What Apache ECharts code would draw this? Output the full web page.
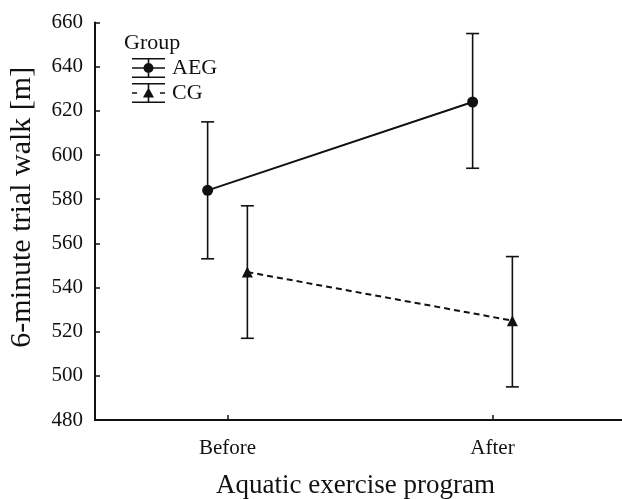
<!DOCTYPE html>
<html>
<head>
<meta charset="utf-8">
<script src="https://cdn.jsdelivr.net/npm/echarts@6/dist/echarts.min.js"></script>
<style>html,body{margin:0;padding:0;background:#fff}#c{width:622px;height:499px}</style>
</head>
<body>
<div id="c"></div>
<script>
var categories = ['Before', 'After'];
var groups = ['AEG', 'CG'];
var aegMean = [584, 624];
var aegLow = [553, 594];
var aegHigh = [615, 655];
var cgMean = [547, 525];
var cgLow = [517, 495];
var cgHigh = [577, 554];
var yTicks = [480, 500, 520, 540, 560, 580, 600, 620, 640, 660];

var FONT = '"Liberation Serif","Times New Roman",serif';
var INK = '#111';
var DODGE = 0.075;

function pts(mean, off) {
  return mean.map(function (v, i) { return [i + off, v]; });
}
function errPts(low, high, off) {
  return low.map(function (v, i) { return [i + off, v, high[i]]; });
}
function errRender(params, api) {
  var x = api.value(0);
  var lo = api.coord([x, api.value(1)]);
  var hi = api.coord([x, api.value(2)]);
  var cap = 6.5;
  var st = { stroke: INK, lineWidth: 1.6, fill: null };
  return {
    type: 'group',
    children: [
      { type: 'line', shape: { x1: lo[0], y1: lo[1], x2: hi[0], y2: hi[1] }, style: st },
      { type: 'line', shape: { x1: lo[0] - cap, y1: lo[1], x2: lo[0] + cap, y2: lo[1] }, style: st },
      { type: 'line', shape: { x1: hi[0] - cap, y1: hi[1], x2: hi[0] + cap, y2: hi[1] }, style: st }
    ]
  };
}

// legend icons (error-bar look), 33 x 20 box
var iconAEG = 'path://M0 0H33V1.6H0Z M0 18.4H33V20H0Z M0 9.2H33V10.8H0Z M15.7 0H17.3V20H15.7Z M16.5 5A5 5 0 1 1 16.49 5Z';
var iconCG = 'path://M0 0H33V1.6H0Z M0 18.4H33V20H0Z M0 9.2H5V10.8H0Z M28 9.2H33V10.8H28Z M15.7 0H17.3V20H15.7Z M16.5 4.5L22 14.5H11Z';

var chart = echarts.init(document.getElementById('c'));
chart.setOption({
  animation: false,
  backgroundColor: '#fff',
  textStyle: { fontFamily: FONT, color: INK },
  title: {
    text: 'Group', left: 119, top: 27,
    textStyle: { fontFamily: FONT, fontSize: 22, fontWeight: 'normal', color: INK }
  },
  legend: {
    left: 127, top: 52, orient: 'vertical',
    itemWidth: 33, itemHeight: 20, itemGap: 3,
    data: [
      { name: groups[0], icon: iconAEG },
      { name: groups[1], icon: iconCG }
    ],
    itemStyle: { color: INK, borderWidth: 0 },
    textStyle: { fontFamily: FONT, fontSize: 22, color: INK, padding: [0, 0, 0, 2] }
  },
  grid: { left: 95, top: 22.5, width: 530, bottom: 79, containLabel: false, outerBoundsMode: 'none' },
  xAxis: [
    {
      type: 'category', data: categories, boundaryGap: true,
      axisLine: { show: true, onZero: false, lineStyle: { color: INK, width: 2 } },
      axisTick: { show: true, inside: true, alignWithLabel: true, length: 5, lineStyle: { color: INK, width: 1.5 } },
      axisLabel: { fontFamily: FONT, fontSize: 21, color: INK, margin: 18 },
      splitLine: { show: false },
      name: 'Aquatic exercise program', nameLocation: 'middle', nameGap: 52,
      nameTextStyle: { fontFamily: FONT, fontSize: 27, color: INK, padding: [0, 9, 0, 0] }
    },
    { type: 'value', min: -0.5, max: 1.5, show: false }
  ],
  yAxis: {
    type: 'value', min: yTicks[0], max: yTicks[yTicks.length - 1], interval: 20,
    axisLine: { show: true, onZero: false, lineStyle: { color: INK, width: 2 } },
    axisTick: { show: true, inside: true, length: 5, lineStyle: { color: INK, width: 1.5 } },
    axisLabel: { fontFamily: FONT, fontSize: 21, color: INK, margin: 12 },
    splitLine: { show: false },
    name: '6-minute trial walk [m]', nameLocation: 'middle', nameGap: 58,
    nameTextStyle: { fontFamily: FONT, fontSize: 30, color: INK, padding: [0, 0, 0, 28] }
  },
  series: [
    {
      name: groups[0], type: 'line', xAxisIndex: 1, data: pts(aegMean, -DODGE),
      symbol: 'circle', symbolSize: 11, itemStyle: { color: INK },
      lineStyle: { color: INK, width: 2 }, z: 3
    },
    {
      name: groups[1], type: 'line', xAxisIndex: 1, data: pts(cgMean, DODGE),
      symbol: 'triangle', symbolSize: 11, itemStyle: { color: INK },
      lineStyle: { color: INK, width: 2, type: [6, 4] }, z: 3
    },
    {
      name: groups[0] + ' error', type: 'custom', xAxisIndex: 1,
      data: errPts(aegLow, aegHigh, -DODGE), renderItem: errRender,
      encode: { x: 0, y: [1, 2] }, z: 2
    },
    {
      name: groups[1] + ' error', type: 'custom', xAxisIndex: 1,
      data: errPts(cgLow, cgHigh, DODGE), renderItem: errRender,
      encode: { x: 0, y: [1, 2] }, z: 2
    }
  ]
});
</script>
</body>
</html>
